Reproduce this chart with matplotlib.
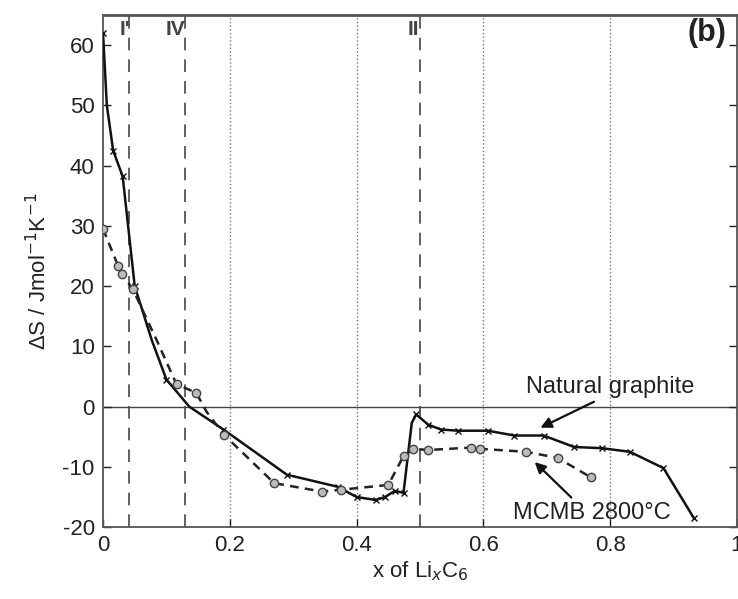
import matplotlib
matplotlib.use("Agg")
import matplotlib.pyplot as plt

plt.rcParams['font.family'] = ['Liberation Sans', 'DejaVu Sans']
plt.rcParams['axes.unicode_minus'] = False

# Natural graphite (solid line, x markers)
ng_x = [0.0, 0.006, 0.016, 0.031, 0.05, 0.077, 0.10, 0.136, 0.19, 0.242, 0.29, 0.37, 0.40,
        0.43, 0.445, 0.46, 0.474, 0.487, 0.494, 0.513, 0.533, 0.56, 0.607, 0.649, 0.695,
        0.743, 0.787, 0.831, 0.884, 0.932]
ng_y = [62.0, 50.0, 42.5, 38.2, 20.0, 11.0, 4.5, 0.0, -3.8, -7.7, -11.3, -13.3, -15.0,
        -15.5, -15.0, -14.0, -14.3, -2.7, -1.3, -3.0, -3.8, -4.0, -4.0, -4.8, -4.8,
        -6.7, -6.9, -7.5, -10.2, -18.5]
ng_marks = [0, 2, 3, 4, 6, 8, 10, 11, 12, 13, 14, 15, 16, 18, 19, 20, 21, 22, 23, 24,
            25, 26, 27, 28, 29]

# MCMB 2800C (dashed line, open circles)
mc_x = [0.0, 0.024, 0.03, 0.047, 0.086, 0.116, 0.147, 0.163, 0.191, 0.27, 0.345, 0.375,
        0.45, 0.474, 0.489, 0.513, 0.58, 0.595, 0.667, 0.717, 0.769]
mc_y = [29.5, 23.3, 22.0, 19.5, 10.7, 3.7, 2.3, -0.8, -4.7, -12.7, -14.1, -13.8,
        -13.0, -8.2, -7.0, -7.2, -6.8, -7.0, -7.5, -8.5, -11.7]
mc_marks = [0, 1, 2, 3, 5, 6, 8, 9, 10, 11, 12, 13, 14, 15, 16, 17, 18, 19, 20]

# stage boundaries
stage_x = [0.041, 0.129, 0.50]
stage_lbl = ["I'", "IV", "II"]
stage_off = [0.002, 0.0, -0.002]

xticks = [0, 0.2, 0.4, 0.6, 0.8, 1.0]
xtick_lbl = ["0", "0.2", "0.4", "0.6", "0.8", "1"]
yticks = [-20, -10, 0, 10, 20, 30, 40, 50, 60]

fig = plt.figure(figsize=(7.38, 5.99), dpi=100)
ax = fig.add_axes([0.1396, 0.12, 0.859, 0.855])

for gx in [0.2, 0.4, 0.6, 0.8]:
    ax.axvline(gx, color='#777777', ls=':', lw=1.0, zorder=1)
for sx, sl, so in zip(stage_x, stage_lbl, stage_off):
    ax.axvline(sx, color='#555555', ls=(0, (7, 5)), lw=1.3, zorder=1)
    ax.text(sx + so, 62.6, sl, ha='right', va='center', fontsize=15,
            fontweight='bold', color='#444444', zorder=4)
ax.axhline(0, color='#444444', lw=1.0, zorder=1)

ax.plot(ng_x, ng_y, color='#111111', lw=1.8, marker='x', ms=5, mew=1.0,
        markevery=ng_marks, zorder=3)
ax.plot(mc_x, mc_y, color='#222222', lw=1.8, ls=(0, (3.5, 2.5)), marker='o', ms=6,
        mfc='#bbbbbb', mec='#444444', mew=1.0, markevery=mc_marks, zorder=3)

ax.annotate("Natural graphite", xy=(0.69, -3.5), xytext=(0.668, 3.3), fontsize=17,
            ha='left', va='center', color='#222222',
            arrowprops=dict(arrowstyle='-|>', color='#111111', lw=1.6,
                            shrinkA=2, shrinkB=0, mutation_scale=16,
                            relpos=(0.45, 0.0)))
ax.annotate("MCMB 2800°C", xy=(0.681, -9.2), xytext=(0.647, -17.7), fontsize=17,
            ha='left', va='center', color='#222222',
            arrowprops=dict(arrowstyle='-|>', color='#111111', lw=1.6,
                            shrinkA=2, shrinkB=0, mutation_scale=16,
                            relpos=(0.4, 1.0)))

ax.text(0.983, 62.0, "(b)", fontsize=22, fontweight='bold', ha='right', va='center',
        color='#222222')

ax.set_xlim(0, 1.0)
ax.set_ylim(-20, 65)
ax.set_xticks(xticks)
ax.set_xticklabels(xtick_lbl)
ax.set_yticks(yticks)
ax.tick_params(direction='in', length=6, width=1, labelsize=16, colors='#222222',
               right=True, top=False, pad=6)
for s in ax.spines.values():
    s.set_color('#555555')
    s.set_linewidth(1.3)
ax.spines['top'].set_linewidth(2.0)

ax.set_ylabel("ΔS / Jmol$^{-1}$K$^{-1}$", fontsize=16, color='#222222', labelpad=8)
ax.set_xlabel("x of Li$_x$C$_6$", fontsize=16, color='#222222', labelpad=2)

fig.savefig("out.png", dpi=100)
